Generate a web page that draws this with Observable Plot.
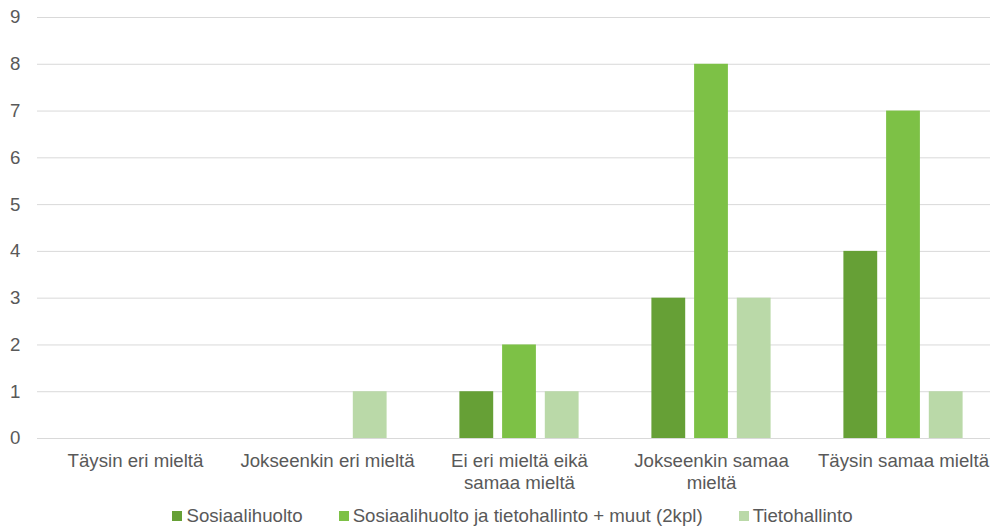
<!DOCTYPE html>
<html>
<head>
<meta charset="utf-8">
<script src="https://cdn.jsdelivr.net/npm/d3@7"></script>
<script src="https://cdn.jsdelivr.net/npm/@observablehq/plot@0.6"></script>
<style>
  body { margin: 0; background: #fff; font-family: "Liberation Sans", Arial, sans-serif; }
  #legend { display: flex; justify-content: center; align-items: center; height: 21px; font-size: 18.67px; color: #595959; margin-left: 35px; }
  #legend .item { display: flex; align-items: center; margin: 0 18px; }
  #legend .sw { width: 10px; height: 10px; margin-right: 4px; display: inline-block; }
</style>
</head>
<body>
<div id="chart"></div>
<div id="legend"></div>
<script>
const categories = ["Täysin eri mieltä", "Jokseenkin eri mieltä", "Ei eri mieltä eikä\nsamaa mieltä", "Jokseenkin samaa\nmieltä", "Täysin samaa mieltä"];
const series = ["Sosiaalihuolto", "Sosiaalihuolto ja tietohallinto + muut (2kpl)", "Tietohallinto"];
const colors = ["#66A036", "#7DC146", "#BAD9A8"];
const sosiaalihuolto = [0, 0, 1, 3, 4];
const sosiaaliJaTieto = [0, 0, 2, 8, 7];
const tietohallinto = [0, 1, 1, 3, 1];
const yTicks = [0, 1, 2, 3, 4, 5, 6, 7, 8, 9];

const valuesBySeries = [sosiaalihuolto, sosiaaliJaTieto, tietohallinto];

const W = 990, ML = 37, MR = 0;
const xRange = [38, 999];
const step = (xRange[1] - xRange[0]) / categories.length;
const barW = 34, barStep = 42.7;
const inset = (step - barW) / 2;

const barMarks = series.map((s, j) => Plot.barY(
  categories.map((c, i) => ({category: c, series: s, value: valuesBySeries[j][i]})),
  {x: "category", y: "value", fill: colors[j], insetLeft: inset, insetRight: inset, dx: (j - 1) * barStep}
));

const chart = Plot.plot({
  width: W,
  height: 505,
  marginLeft: ML,
  marginRight: MR,
  marginTop: 17,
  marginBottom: 67,
  style: {fontFamily: "'Liberation Sans', Arial, sans-serif", fontSize: "18.67px", color: "#595959", background: "#fff"},
  x: {domain: categories, padding: 0, range: xRange, label: null},
  y: {domain: [0, 9], ticks: yTicks, label: null},
  marks: [
    Plot.gridY(yTicks, {stroke: "#d9d9d9", strokeOpacity: 1, strokeWidth: 1}),
    Plot.axisY(yTicks, {tickSize: 0, tickPadding: 17, fontSize: 18.67, fill: "#595959", label: null}),
    Plot.axisX({tickSize: 0, tickPadding: 14, fontSize: 18.67, fill: "#595959", lineHeight: 1.13, label: null}),
    ...barMarks,
    Plot.ruleY([0], {stroke: "#d9d9d9", strokeWidth: 1})
  ]
});
document.getElementById("chart").appendChild(chart);

const legend = document.getElementById("legend");
series.forEach((s, i) => {
  const item = document.createElement("span");
  item.className = "item";
  const sw = document.createElement("span");
  sw.className = "sw";
  sw.style.background = colors[i];
  item.appendChild(sw);
  item.appendChild(document.createTextNode(s));
  legend.appendChild(item);
});
</script>
</body>
</html>
